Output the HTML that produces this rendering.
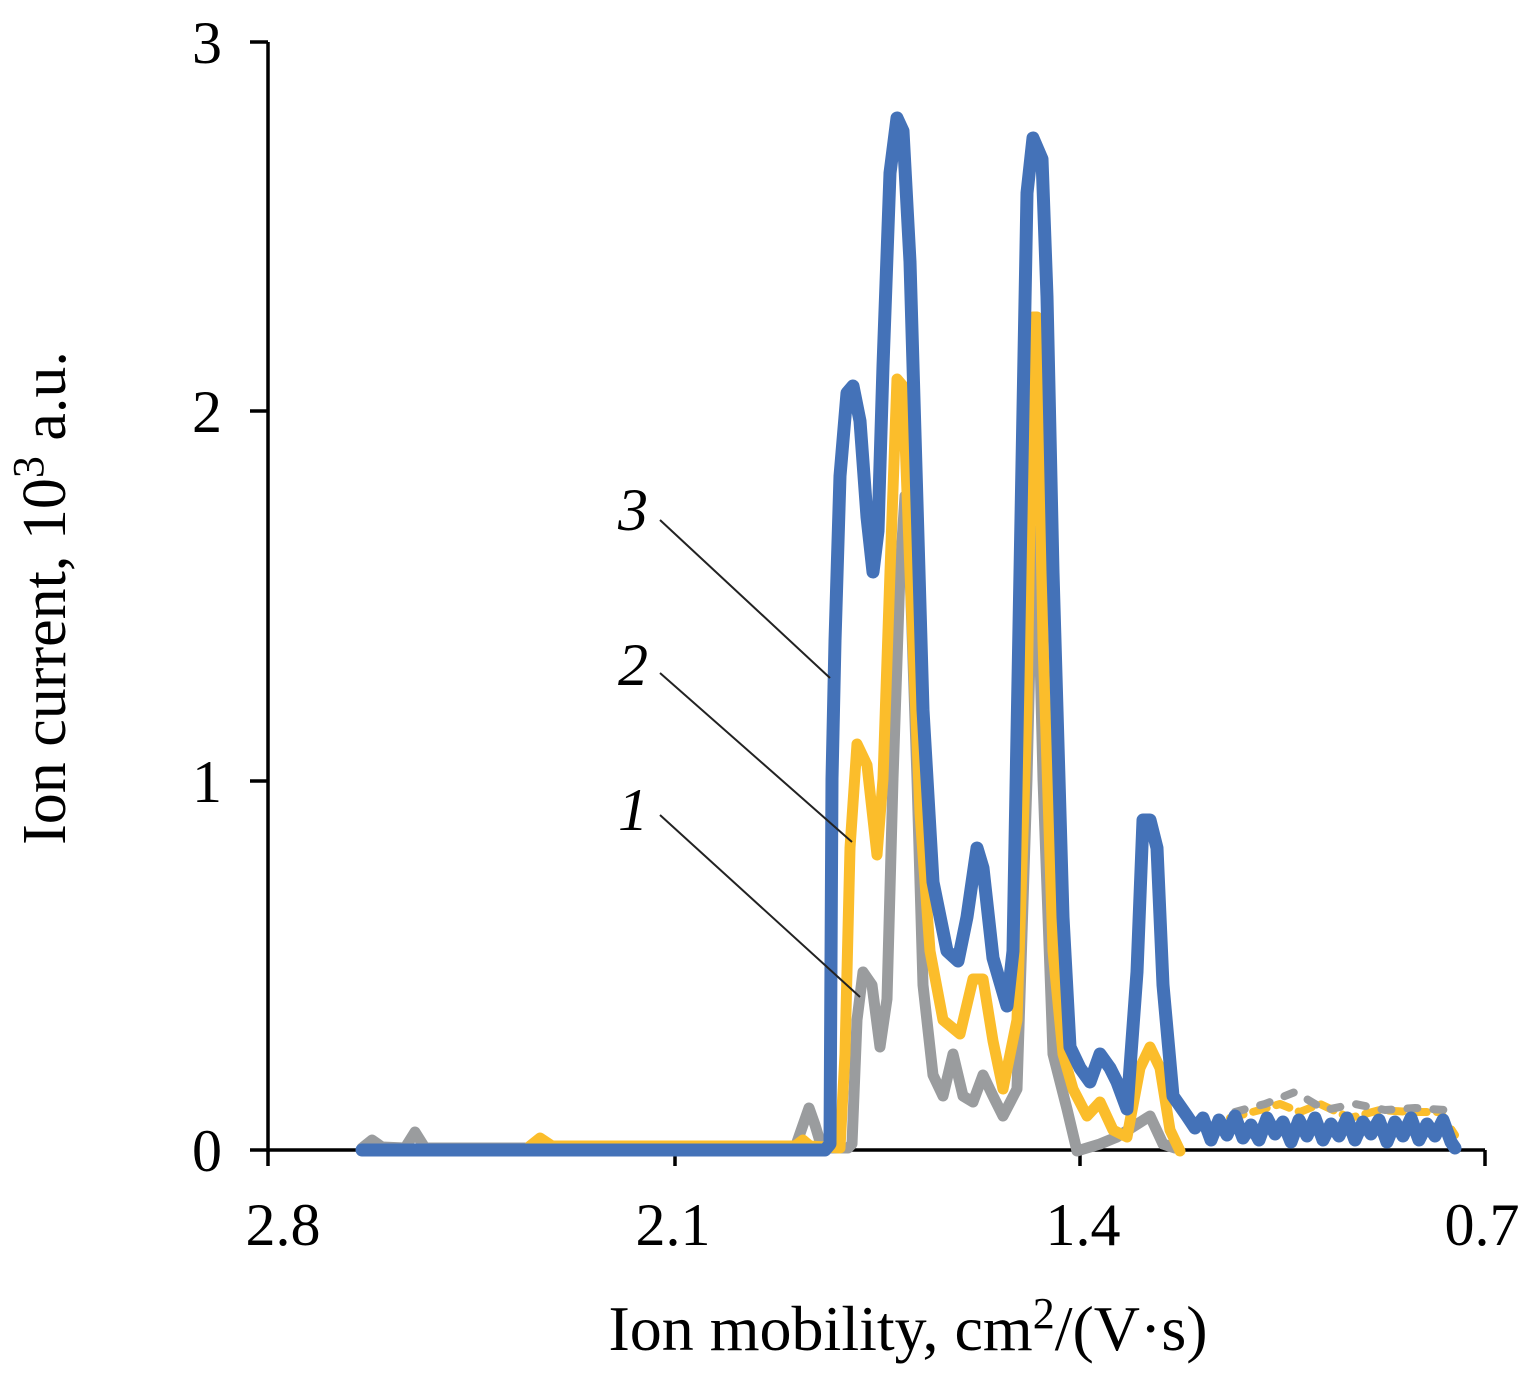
<!DOCTYPE html>
<html><head><style>body{margin:0;background:#fff}</style></head><body>
<svg width="1526" height="1369" viewBox="0 0 1526 1369" xmlns="http://www.w3.org/2000/svg" font-family="Liberation Serif, serif">
<g stroke="#000" stroke-width="3.5" fill="none">
<line x1="268" y1="42" x2="268" y2="1152"/>
<line x1="268" y1="1150" x2="1485" y2="1150"/>
<line x1="250" y1="42" x2="268" y2="42"/><line x1="250" y1="411" x2="268" y2="411"/>
<line x1="250" y1="781" x2="268" y2="781"/><line x1="250" y1="1150" x2="268" y2="1150"/>
<line x1="268" y1="1150" x2="268" y2="1166"/><line x1="675" y1="1150" x2="675" y2="1166"/>
<line x1="1080" y1="1150" x2="1080" y2="1166"/><line x1="1485" y1="1150" x2="1485" y2="1166"/>
</g>
<g font-size="60" text-anchor="end">
<text x="222" y="63">3</text><text x="222" y="432">2</text><text x="222" y="802">1</text><text x="222" y="1171">0</text>
</g>
<g font-size="60" text-anchor="middle">
<text x="283" y="1245">2.8</text><text x="673" y="1245">2.1</text><text x="1083" y="1245">1.4</text><text x="1482" y="1245">0.7</text>
</g>
<text x="908" y="1350" font-size="64" text-anchor="middle">Ion mobility, cm<tspan dy="-22" font-size="44">2</tspan><tspan dy="22">/(V·s)</tspan></text>
<text transform="translate(65,598) rotate(-90)" font-size="62" text-anchor="middle">Ion current, 10<tspan dy="-22" font-size="44">3</tspan><tspan dy="22"> a.u.</tspan></text>
<g fill="none" stroke-linejoin="round" stroke-linecap="round">
<polyline stroke="#9a9c9e" stroke-width="11" points="362,1148 372,1140 382,1147 405,1148 415,1132 425,1148 795,1148 803,1125 809,1108 815,1125 822,1148 848,1148 852,1144 857,1020 863,972 872,985 880,1047 887,999 893,779 900,572 905,496 910,572 917,779 923,985 933,1075 943,1096 953,1054 963,1096 973,1102 983,1075 993,1096 1003,1116 1017,1089 1027,779 1033,531 1037,531 1043,779 1053,1054 1067,1109 1077,1151 1100,1144 1117,1137 1150,1116 1163,1144 1175,1148"/>
<polyline stroke="#fbbd2b" stroke-width="11" points="530,1146 540,1138 552,1146 795,1146 803,1140 810,1146 840,1148 845,1054 850,848 857,744 867,765 877,855 883,779 890,572 897,379 903,386 910,572 920,813 930,951 943,1020 960,1034 973,979 983,979 993,1041 1003,1089 1017,1020 1027,710 1033,317 1037,317 1043,641 1053,951 1063,1054 1073,1089 1087,1116 1100,1102 1113,1130 1127,1137 1140,1068 1150,1047 1160,1068 1170,1130 1180,1151"/>
<polyline stroke="#fbbd2b" stroke-width="8" stroke-dasharray="14 10" points="1230,1118 1260,1110 1280,1104 1300,1112 1320,1104 1350,1118 1380,1110 1410,1112 1440,1112 1455,1135"/>
<polyline stroke="#9a9c9e" stroke-width="8" stroke-dasharray="10 16" points="1235,1112 1265,1104 1295,1092 1325,1110 1355,1104 1385,1110 1415,1108 1445,1110"/>
<polyline stroke="#4472b8" stroke-width="13" points="362,1150 825,1150 830,1144 832,779 835,641 840,476 847,393 853,386 860,421 867,517 873,572 878,531 883,366 890,173 897,118 903,131 910,262 917,503 923,710 933,882 947,951 958,961 967,917 977,848 983,868 993,958 1007,1006 1013,951 1020,572 1027,193 1033,138 1042,159 1047,297 1053,572 1063,917 1070,1047 1080,1068 1090,1082 1100,1054 1110,1068 1117,1082 1127,1109 1137,972 1143,820 1150,820 1157,848 1163,985 1173,1096 1187,1116 1195,1128 1203,1118 1211,1140 1219,1120 1227,1135 1235,1116 1243,1138 1251,1125 1259,1140 1267,1118 1275,1134 1283,1122 1291,1142 1299,1120 1307,1136 1315,1118 1323,1140 1331,1124 1339,1136 1347,1118 1355,1140 1363,1122 1371,1134 1379,1120 1387,1142 1395,1122 1403,1136 1411,1118 1419,1140 1427,1124 1435,1136 1443,1120 1451,1142 1455,1148"/>
</g>
<g stroke="#222" stroke-width="2">
<line x1="660" y1="520" x2="830" y2="678"/>
<line x1="660" y1="673" x2="852" y2="842"/>
<line x1="660" y1="815" x2="860" y2="997"/>
</g>
<g font-size="60" font-style="italic" text-anchor="middle">
<text x="633" y="530">3</text><text x="633" y="685">2</text><text x="633" y="830">1</text>
</g>
</svg>
</body></html>
